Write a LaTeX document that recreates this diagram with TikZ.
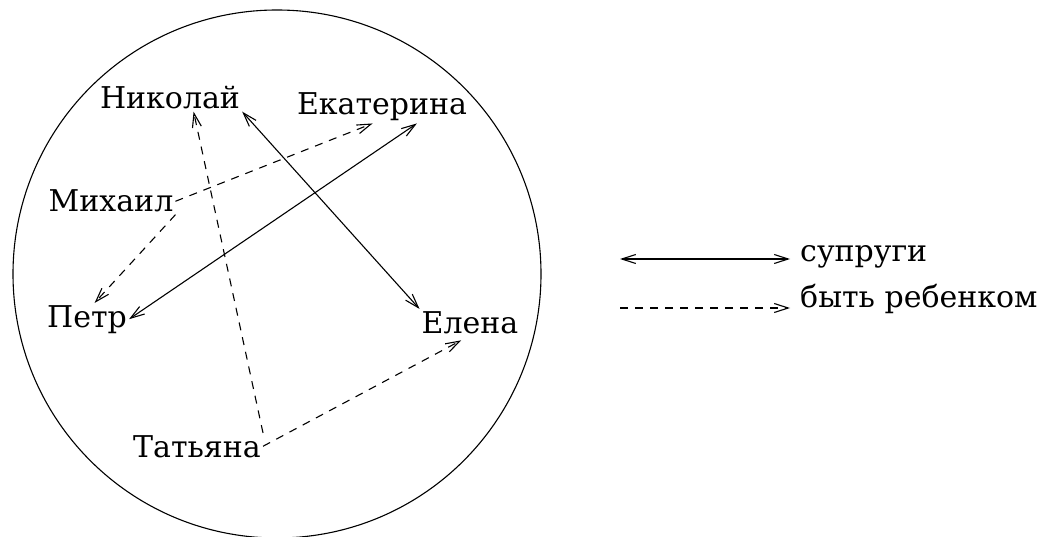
\documentclass[tikz,border=0pt]{standalone}
\usepackage{fontspec}
\setmainfont{DejaVu Serif}
\usetikzlibrary{arrows.meta}
\tikzset{
    person/.style={inner sep=2pt, font=\fontsize{30}{36}\selectfont, anchor=base},
    legtext/.style={inner sep=0pt, font=\fontsize{30}{36}\selectfont, anchor=mid west},
    spouse/.style={{Straight Barb[length=14pt,width=9pt]}-{Straight Barb[length=14pt,width=9pt]}, line width=1.1pt},
    child/.style={-{Straight Barb[length=14pt,width=9pt]}, line width=1.1pt, dash pattern=on 8pt off 7pt},
}

\begin{document}
\begin{tikzpicture}[x=1pt, y=-1pt]
\useasboundingbox (0,0) rectangle (1052,537);

% ── Family set ──
\node[draw, circle, line width=1.1pt, minimum size=528pt, inner sep=0pt] (family) at (277,274) {};

\node[person] (nik) at (170,109) {Николай};
\node[person] (eka) at (382,115) {Екатерина};
\node[person] (mih) at (111,212) {Михаил};
\node[person] (petr) at (87,327) {Петр};
\node[person] (ele) at (470,333) {Елена};
\node[person] (tat) at (197,457) {Татьяна};

% ── Relations ──
\draw[spouse] (nik.south east) -- (ele.north west);
\draw[spouse] (eka.-25) -- (petr.east);

\draw[child] (mih.east) -- (eka.-120);
\draw[child] (mih.south east) -- (petr.65);
\draw[child] (tat.north east) -- (nik.-30);
\draw[child, shorten >=10pt] (tat.east) -- (ele.south);

% ── Legend ──
\coordinate (sp) at (620,259);
\node[legtext] (spt) at (800,259) {супруги};
\draw[spouse, shorten >=10pt] (sp) -- (spt.mid west);

\coordinate (ch) at (620,308);
\node[legtext] (cht) at (800,305) {быть ребенком};
\draw[child, shorten >=10pt] (ch) -- (ch -| cht.mid west);

\end{tikzpicture}
\end{document}
